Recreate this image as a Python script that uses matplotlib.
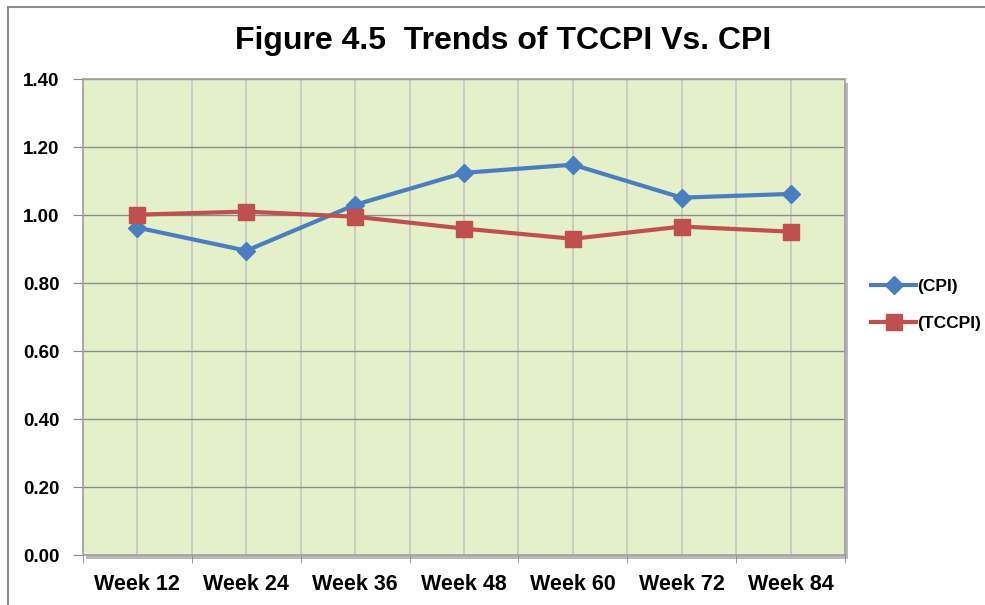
import matplotlib
matplotlib.use("Agg")
import matplotlib.pyplot as plt
from matplotlib.patches import Rectangle
import numpy as np

categories = ["Week 12", "Week 24", "Week 36", "Week 48", "Week 60", "Week 72", "Week 84"]
cpi = [0.963, 0.895, 1.030, 1.124, 1.148, 1.051, 1.062]
tccpi = [1.001, 1.010, 0.995, 0.960, 0.930, 0.966, 0.951]
yticks = [0.0, 0.2, 0.4, 0.6, 0.8, 1.0, 1.2, 1.4]

plt.rcParams['font.family'] = ['Liberation Sans', 'DejaVu Sans']

W, H = 985, 605
fig = plt.figure(figsize=(W / 100, H / 100), dpi=100)

# outer chart frame (cropped on right/bottom)
fig.patches.append(Rectangle((8 / W, -0.1), 1.2, 1 - 7 / H + 0.1, transform=fig.transFigure,
                             fill=False, edgecolor='#8a8a8a', linewidth=1.5, zorder=-2))

left, right, bottom, top = 83 / W, 845 / W, 1 - 555 / H, 1 - 79 / H
# shadow of plot area
fig.patches.append(Rectangle((left + 3 / W, bottom - 4 / H), right - left, top - bottom,
                             transform=fig.transFigure, facecolor='#b8b8b8', edgecolor='none', zorder=-1))
ax = fig.add_axes([left, bottom, right - left, top - bottom])
ax.set_facecolor('#E3F0C9')

x = np.arange(len(categories))
ax.plot(x, cpi, color='#4A7EBF', linewidth=3, marker='D', markersize=9,
        markerfacecolor='#4A7EBF', markeredgecolor='#4A7EBF', label='(CPI)', zorder=3)
ax.plot(x, tccpi, color='#C0504D', linewidth=3, marker='s', markersize=11,
        markerfacecolor='#C0504D', markeredgecolor='#C0504D', label='(TCCPI)', zorder=3)

ax.set_xlim(-0.5, len(categories) - 0.5)
ax.set_ylim(0, 1.4)
ax.set_yticks(yticks)
ax.set_yticklabels([f"{v:.2f}" for v in yticks], fontsize=13.5, fontweight='bold')
ax.set_xticks(x)
ax.set_xticklabels(categories, fontsize=15.5, fontweight='bold')
ax.set_xticks(np.arange(-0.5, len(categories)), minor=True)
ax.tick_params(axis='x', which='major', length=0, pad=14)
ax.tick_params(axis='x', which='minor', length=6, color='#8a8a8a')
ax.tick_params(axis='y', length=7, color='#8a8a8a', pad=10)

ax.grid(axis='y', color='#8c8c8c', linewidth=1)
ax.grid(axis='x', which='both', color='#c4c4c4', linewidth=1.2)
ax.set_axisbelow(True)
for s in ax.spines.values():
    s.set_color('#a0a0a0')
    s.set_linewidth(1.2)

fig.text(503 / W, 1 - 41 / H, "Figure 4.5  Trends of TCCPI Vs. CPI", ha='center', va='center',
         fontsize=23, fontweight='bold')

fig.legend(loc='center left', bbox_to_anchor=(864 / W, 1 - 305 / H), frameon=False,
           prop={'weight': 'bold', 'size': 12.5}, handlelength=2.6, handletextpad=0.05,
           labelspacing=1.25, borderaxespad=0)

fig.savefig("out.png", dpi=100)
